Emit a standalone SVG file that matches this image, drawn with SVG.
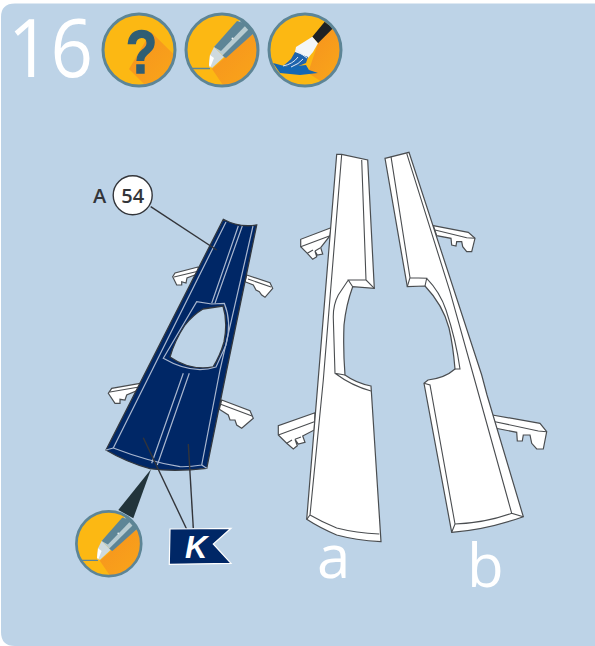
<svg xmlns="http://www.w3.org/2000/svg" xmlns:xlink="http://www.w3.org/1999/xlink" width="595" height="646" viewBox="0 0 595 646">
<style>
.num{font-family:"Open Sans","Noto Sans",sans-serif;font-weight:400;fill:#fff}
.ring{fill:none;stroke:#5d8596;stroke-width:3}
.disc{fill:#fcb813}
.part{fill:#fff;stroke:#4a4d50;stroke-width:1.2;stroke-linejoin:miter}
.in{fill:none;stroke:#4a4d50;stroke-width:1.1}
.dark{fill:#002766;stroke:#33383f;stroke-width:1.3}
.lt{fill:none;stroke:#a9b7cf;stroke-width:1.2}
.lead{fill:none;stroke:#33353a;stroke-width:1.4}
</style>
<defs>
<linearGradient id="sh" x1="0" y1="0" x2="1" y2="1"><stop offset="0" stop-color="#f6921e"/><stop offset="1" stop-color="#fbb017"/></linearGradient>
<clipPath id="c1"><circle cx="139" cy="50" r="36"/></clipPath>
<clipPath id="c2"><circle cx="222" cy="50" r="36"/></clipPath>
<clipPath id="c3"><circle cx="305" cy="50" r="36"/></clipPath>
<g id="knife">
<circle class="disc" cx="222" cy="50" r="36"/>
<g clip-path="url(#c2)">
<polygon fill="url(#sh)" points="212,69 252,33 290,72 240,110"/>
<path d="M184 68.500H210" fill="none" stroke="#5d8596" stroke-width="1.600"/>
<polygon fill="#b7cbd1" points="214,47 240,20 258,30 224,57"/>
<polygon fill="#5d8596" points="214,47 237,21 247,24 221,51"/>
<polygon fill="#5d8596" points="222,56 250,28 254,33 226,58"/>
<polygon fill="#5d8596" points="240,21 246,18 258,32 252,34"/>
<polygon fill="#cfdade" points="214,47 224,57 212,68 209,65 210,55"/>
<polygon fill="#fff" points="210,55 214,58 210,68 209,65"/>
<circle cx="232.500" cy="38.500" r="1" fill="#e6eef0"/>
</g>
<circle class="ring" cx="222" cy="50" r="36"/>
</g>
</defs>
<path id="panel" d="M595 3.500H15Q1 3.500 1 17V632Q1 646 15 646H595Z" fill="#bdd3e7"/>
<text class="num" transform="translate(8 77) scale(.93 1)" x="0" y="0" font-size="80">16</text>
<g id="icon-question">
<circle class="disc" cx="139" cy="50" r="36"/>
<polygon clip-path="url(#c1)" fill="url(#sh)" points="151,32 200,80 172,112 129,69"/>
<text x="0" y="0" transform="translate(126 73) scale(.82 1)" font-family="Liberation Sans,sans-serif" font-weight="700" font-size="62" fill="#305e74" stroke="#305e74" stroke-width="1.500">?</text>
<circle class="ring" cx="139" cy="50" r="36"/>
</g>
<g id="icon-knife"><use xlink:href="#knife" href="#knife"/></g>
<g id="icon-brush">
<circle class="disc" cx="305" cy="50" r="36"/>
<g clip-path="url(#c3)">
<polygon fill="url(#sh)" points="333,28 362,50 350,100 308,73 318,43"/>
<polygon fill="#1467b3" points="273,63 288,67 306,65 309,70 318,73 300,75 280,73"/>
<polygon fill="#1f2224" points="312.300,36.700 324.700,21.700 333,28.300 318,43.300"/>
<polygon fill="#f3f6f8" points="312.300,36.700 318,43.300 313,52 308,58 300,56 295,52 296,47"/>
<path d="M295 52L308 57L306 63L296 67L288 67L283 66Q288 62 291 59Z" fill="#1f64ad"/>
<path d="M283 66Q293 64 298 57M291 67Q299 64 303 59M296 50L307 58" fill="none" stroke="#e4ebf4" stroke-width="1"/>
</g>
<circle class="ring" cx="305" cy="50" r="36"/>
</g>
<g id="part-dark">
<polygon class="part" points="198,267 175,273 172.700,276.700 176.700,285 181.700,285 181.700,281.700 186,283 187,278 200,273"/>
<polygon class="part" points="246.700,275 270,282.700 272.700,288.300 265,297.300 261.700,295 259.300,291.700 256,290 253.300,285 245,281.700"/>
<polygon class="part" points="140,383.300 111.700,388.300 108.300,393.300 115,403.300 120,403.300 120,399.300 125,400 126.700,395 138.300,390"/>
<polygon class="part" points="221.700,400 250,410.700 253.300,418.300 241.700,428.300 236.700,425 235,420 230,420 228.300,415 219.300,409.300"/>
<path class="in" d="M174 277L199 271M248 279L271 287M110 392L139 387M220 404L252 416"/>
<path class="dark" fill-rule="evenodd" d="M223.300 219.300Q239 228 256.700 225L226.700 370L206.700 468.300Q175 472 150 468.700Q126 462 106 450ZM203 309L223 306Q228 322 224 342Q220 356 213 367Q190 371 170 357Q175 340 185 325Q193 315 203 309Z"/>
<path class="lt" d="M226 222L113.300 448Q150 462 180 466.700Q190 467 201.700 465L220 370L253 226"/>
<path class="lt" d="M238.300 226L211.700 303.300M242.300 226L215 303.300M183.300 373.300L151.700 463.300M189.300 373.300L157.300 465"/>
<path class="lt" d="M163.300 358.300L196.700 301.700L211.700 304L224.300 303.300Q232 322 226 345L216 367Q192 375 163.300 358.300Z"/>
<path d="M106 450L113.300 448M206.700 468.300L201.700 465" class="lt"/>
</g>
<g id="part-a">
<polygon class="part" points="331,227.700 300.700,239.300 300.700,246.700 307.300,253.300 312.700,259.300 316.700,256.700 315,251 317.300,255 322.700,254 320.700,247.700 330,235.700"/>
<path class="in" d="M300.700 246.700L330 235.700M307.300 253.300L313 250M315 251L320 248"/>
<polygon class="part" points="315,412.700 278.300,425.700 278.300,435 286.700,443.300 293.300,449 297.300,445.700 295,439.300 298.300,444 305,442.300 302.700,436 314.300,430"/>
<path class="in" d="M278.300 435L314.300 421.700M286.700 443.300L292 440M295 439.300L301 437"/>
<path class="part" d="M336.700 154.300L341.700 154.300L367.700 160L374.300 288.300L352.700 286.700Q346 305 344 325Q343 350 345 375Q356 383 371 386L381 541.700Q355 540 336.700 535Q320 528 306.700 519.300Z"/>
<path class="in" d="M341.700 154.300L323.300 380L310 515Q322 522 336.700 528Q356 533 379.300 534M306.700 519.300L310 515M361.700 160L366 280L374.300 288.300M366 280L348.300 280L352.700 286.700M348.300 280L338.300 295Q333 305 333.300 318L335 373.300L345 375M335 373.300Q352 386 371 391"/>
</g>
<g id="part-b">
<polygon class="part" points="433.300,225.700 468.300,232.300 475,238.300 471.700,251.700 466.700,251.700 462.700,246.700 461.700,241.700 456.700,241.700 456,246 451.700,245 451,238.300 436.700,235.700"/>
<path class="in" d="M435 230L466.700 237.700L475 238.300"/>
<polygon class="part" points="492.300,415 540,423.300 546.700,431.700 543.300,449 536.700,449 531.700,443.300 530,435 523.300,435 522.300,441 517.300,441 516.700,432.300 496,428.300"/>
<path class="in" d="M495 421.700L538.300 431L546.700 431.700"/>
<path class="part" d="M385 158.300L409 152.300L481.700 375L487 395L523.300 516.700Q486 530 451.700 532.300L424 383.300L428 380Q445 378 455 369Q453 345 449 328Q443 305 425 286L407.300 286.700Z"/>
<path class="in" d="M391 156.700L410 277.700L407.300 286.700M410 277.700L426.700 278.300L425 286M426.700 278.300Q440 292 446 310Q456 340 460 369L455 369M406.700 153.300L450 291.700L473.300 375L511.700 513.300L523.300 516.700M511.700 513.300Q485 523 455 524L451.700 532.300M455 524L430 385L424 383.300"/>
</g>
<g id="connectors">
<path class="lead" d="M150.700 206.700L216.700 250"/>
<path class="lead" d="M143.300 437.700L186.700 529.300"/>
<path class="lead" d="M188.300 444L193.300 528.300"/>
<polygon id="wedge" fill="#22343b" points="151,469.300 118.300,510 133.300,518.300"/>
</g>
<g id="callout-54">
<text x="93" y="203" font-family="Open Sans,sans-serif" font-weight="600" font-size="20" fill="#33353a">A</text>
<circle cx="132.700" cy="195.300" r="19.500" fill="#fff" stroke="#33353a" stroke-width="1.400"/>
<text x="132.700" y="202.500" text-anchor="middle" font-family="Open Sans,sans-serif" font-weight="600" font-size="20" fill="#33353a">54</text>
</g>
<g id="icon-knife-small"><use xlink:href="#knife" href="#knife" transform="translate(108.800 543.700) scale(.9) translate(-222 -50)"/></g>
<g id="flag-k">
<polygon points="170,529 231,528.300 213.300,544 231,563.300 169.300,564.300" fill="#002766" stroke="#fff" stroke-width="1.200"/>
<text x="185" y="558" font-family="Liberation Sans,sans-serif" font-weight="700" font-style="italic" font-size="31" fill="#fff">K</text>
</g>
<text class="num" x="317" y="578" font-size="60">a</text>
<text class="num" x="467" y="587" font-size="60">b</text>
</svg>
